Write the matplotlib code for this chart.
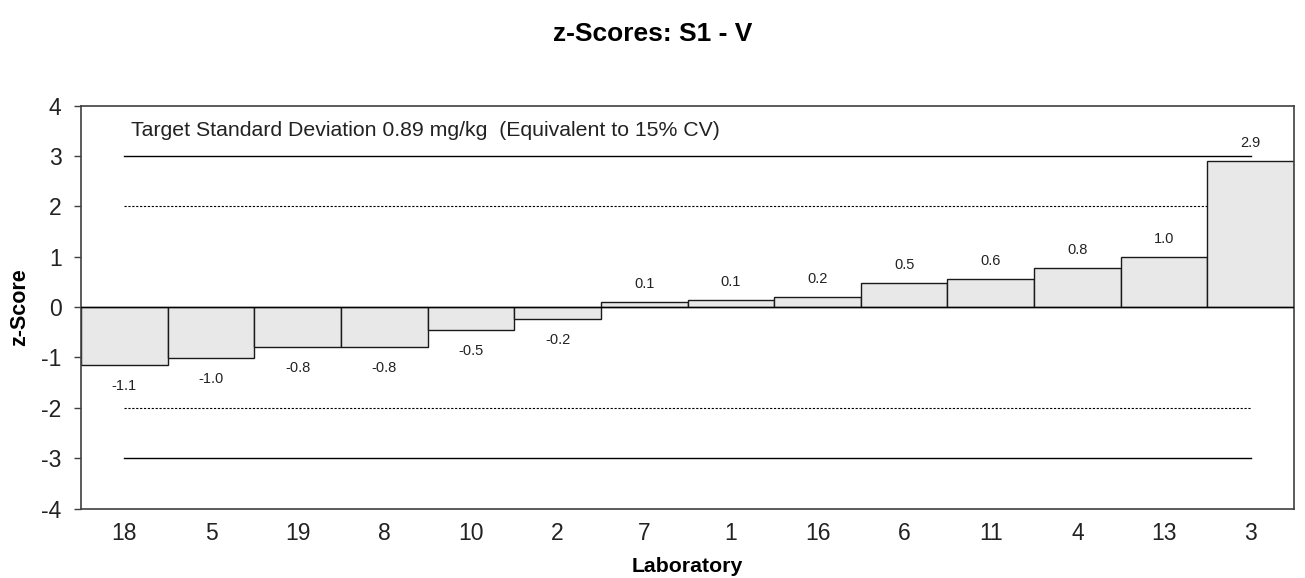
import matplotlib.pyplot as plt

plt.rcParams['font.family'] = ['Liberation Sans', 'DejaVu Sans']
plt.rcParams['axes.unicode_minus'] = False

# Data
labs = ['18', '5', '19', '8', '10', '2', '7', '1', '16', '6', '11', '4', '13', '3']
z_scores = [-1.15, -1.02, -0.79, -0.79, -0.46, -0.23, 0.11, 0.15, 0.2, 0.48, 0.56, 0.78, 0.99, 2.9]
value_labels = ['-1.1', '-1.0', '-0.8', '-0.8', '-0.5', '-0.2', '0.1', '0.1', '0.2', '0.5', '0.6', '0.8', '1.0', '2.9']
target_text = 'Target Standard Deviation 0.89 mg/kg  (Equivalent to 15% CV)'

fig = plt.figure(figsize=(13.05, 5.78), dpi=100)
ax = fig.add_axes([0.0621, 0.1202, 0.9295, 0.6969])

x = range(len(labs))
ax.bar(x, z_scores, width=1.0, color='#e8e8e8', edgecolor='#1a1a1a', linewidth=1.0, zorder=2)

# limit lines from first to last lab
n = len(labs) - 1
ax.plot([0, n], [3, 3], color='black', linewidth=1.0, zorder=1)
ax.plot([0, n], [-3, -3], color='black', linewidth=1.0, zorder=1)
ax.plot([0, n], [2, 2], color='black', linewidth=0.8, linestyle=(0, (2, 1.5)), zorder=1)
ax.plot([0, n], [-2, -2], color='black', linewidth=0.8, linestyle=(0, (2, 1.5)), zorder=1)
ax.axhline(0, color='black', linewidth=1.0, zorder=3)

for i, (v, lbl) in enumerate(zip(z_scores, value_labels)):
    off = 13 if v >= 0 else -15
    ax.annotate(lbl, (i, v), xytext=(0, off), textcoords='offset points',
                ha='center', va='center', fontsize=10.5, color='#222222')

ax.annotate(target_text, (0, 3.5), xytext=(5, 0), textcoords='offset points',
            ha='left', va='center', fontsize=15.3, color='#222222')

ax.set_xlim(-0.5, len(labs) - 0.5)
ax.set_ylim(-4, 4)
ax.set_yticks(range(-4, 5))
ax.set_xticks(list(x))
ax.set_xticklabels(labs)
ax.tick_params(axis='x', length=0, pad=10, labelsize=16.5, colors='#222222')
ax.tick_params(axis='y', length=5, width=1.0, labelsize=16.5, pad=9, direction='out', colors='#222222')
ax.tick_params(axis='y', color='#404040')
for s in ax.spines.values():
    s.set_color('#404040')
    s.set_linewidth(1.2)

ax.set_xlabel('Laboratory', fontsize=15.3, fontweight='bold', labelpad=8)
ax.set_ylabel('z-Score', fontsize=15.5, fontweight='bold', labelpad=8)
fig.suptitle('z-Scores: S1 - V', fontsize=19, fontweight='bold', y=0.962)

fig.savefig('out.png', dpi=100)
